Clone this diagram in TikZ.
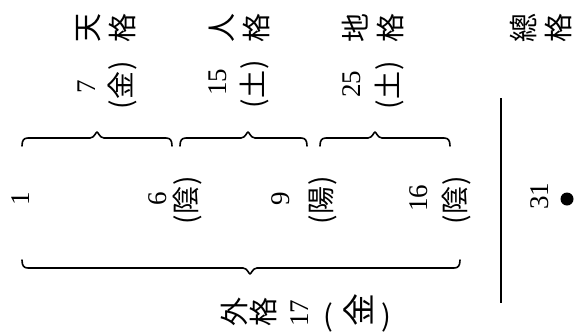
\documentclass[tikz,border=0pt]{standalone}
\usepackage{fontspec}
\newfontfamily\cjk{Noto Sans CJK JP}
\newfontfamily\numfont{Liberation Serif}
\newcommand{\rk}[1]{\rotatebox{90}{#1}}
\newcommand{\mybrace}[5]{% x0, x1, xtip, y, dir (1: ends turn down)
  \draw[bracestyle] ({#1},{#4+8*#5}) .. controls ({#1},{#4+2*#5}) and ({#1+2},{#4}) .. ({#1+6},{#4})
    -- ({#3-7},{#4}) .. controls ({#3-3},{#4}) and ({#3-1},{#4-6*#5}) .. ({#3},{#4-6*#5})
    .. controls ({#3+1},{#4-6*#5}) and ({#3+3},{#4}) .. ({#3+7},{#4})
    -- ({#2-6},{#4}) .. controls ({#2-2},{#4}) and ({#2},{#4+2*#5}) .. ({#2},{#4+8*#5});}
\tikzset{
  kanjilabel/.style={font=\cjk\fontsize{29}{35}\selectfont, inner sep=0pt, rotate=90, align=center},
  numlabel/.style={font=\numfont\fontsize{27}{27}\selectfont, inner sep=0pt, rotate=90},
  parenkanji/.style={font=\cjk\fontsize{28}{28}\selectfont, inner sep=0pt, rotate=90},
  bracestyle/.style={line width=1.6pt, line join=round, line cap=round},
  rule/.style={line width=1.8pt},
}
\begin{document}
\begin{tikzpicture}[x=1pt,y=-1pt]
\useasboundingbox (0,0) rectangle (576,335);
% top labels
\node[kanjilabel] (tenkaku) at (106,28) {天\\格};
\node[kanjilabel] (jinkaku) at (239,28) {人\\格};
\node[kanjilabel] (chikaku) at (373,28) {地\\格};
\node[kanjilabel] (soukaku) at (541,28) {總\\格};
% values
\node[numlabel] (n7) at (87,87) {7};
\node[parenkanji] (p7) at (122,85) {(\hspace{1pt}金\hspace{1pt})};
\node[numlabel] (n15) at (218,82) {15};
\node[parenkanji] (p15) at (255,84) {(\hspace{1pt}土\hspace{1pt})};
\node[numlabel] (n25) at (352,84) {25};
\node[parenkanji] (p25) at (390,85) {(\hspace{1pt}土\hspace{1pt})};
% braces
\mybrace{22}{172}{97}{138}{1}
\mybrace{180}{307}{248}{138}{1}
\mybrace{320}{450}{375}{138}{1}
\mybrace{22}{460}{250}{268}{(-1)}
% strokes
\node[numlabel] (n1) at (21,199) {1};
\node[numlabel] (n6) at (158,199) {6};
\node[parenkanji] (p6) at (188,200) {(\hspace{1pt}陰\hspace{1pt})};
\node[numlabel] (n9) at (281,199) {9};
\node[parenkanji] (p9) at (323,200) {(\hspace{1pt}陽\hspace{1pt})};
\node[numlabel] (n16) at (419,198) {16};
\node[parenkanji] (p16) at (457,200) {(\hspace{1pt}陰\hspace{1pt})};
% total
\coordinate (rtop) at (501,98);
\coordinate (rbot) at (501,303);
\draw[rule] (rtop) -- (rbot);
\node[numlabel] (n31) at (540,196) {31};
\node[circle, fill, inner sep=0pt, minimum size=13pt] (dot) at (567,199) {};
% outer
\node[inner sep=0pt, font=\cjk\fontsize{29}{29}\selectfont] (gaikaku) at (306,313)
  {\rk{外}\hspace{3pt}\rk{格}\hspace{13pt}\rk{\numfont\fontsize{27}{27}\selectfont 17}\hspace{15pt}(\hspace{11pt}\rk{\fontsize{33}{33}\selectfont 金}\hspace{8pt})};
\end{tikzpicture}
\end{document}
